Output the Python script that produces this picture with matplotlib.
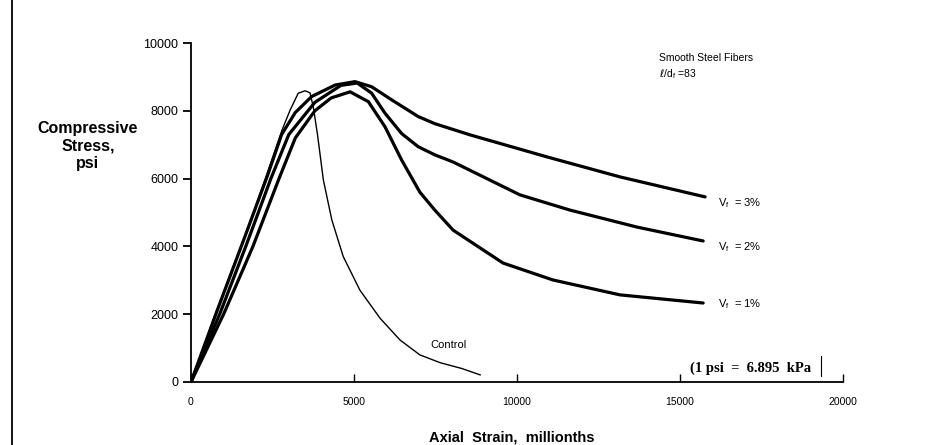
import matplotlib.pyplot as plt
from matplotlib.lines import Line2D

# strain in millionths, stress in psi
vf3_strain = [0, 800, 1600, 2350, 2780, 3200, 3700, 4420, 5030, 5540, 6160, 6970, 7480,
              8560, 10920, 13160, 15770]
vf3_stress = [0, 2100, 4150, 6100, 7300, 7950, 8420, 8760, 8860, 8710, 8320, 7830, 7620,
              7290, 6640, 6050, 5460]

vf2_strain = [0, 900, 1700, 2450, 3000, 3800, 4600, 5100, 5540, 5950, 6460, 6970, 7480,
              8040, 10090, 11630, 13680, 15710]
vf2_stress = [0, 2050, 4050, 6000, 7300, 8250, 8750, 8820, 8520, 7930, 7330, 6940, 6700,
              6490, 5520, 5070, 4570, 4160]

vf1_strain = [0, 1000, 1900, 2700, 3200, 3800, 4300, 4880, 5440, 5950, 6460, 7020, 7480,
              8040, 9570, 11100, 13160, 15710]
vf1_stress = [0, 2000, 4000, 6000, 7200, 8000, 8380, 8560, 8270, 7530, 6550, 5600, 5070,
              4480, 3510, 3010, 2570, 2330]

ctrl_strain = [0, 800, 1600, 2300, 2800, 3040, 3290, 3500, 3650, 3750, 3880, 4060, 4320,
               4670, 5180, 5800, 6410, 7020, 7640, 8300, 8870]
ctrl_stress = [0, 2150, 4150, 6050, 7450, 8020, 8520, 8590, 8530, 8120, 7300, 5960, 4780,
               3700, 2710, 1880, 1240, 800, 570, 400, 210]

x_ticks = [0, 5000, 10000, 15000, 20000]
y_ticks = [0, 2000, 4000, 6000, 8000, 10000]

W, H = 928, 445
fig = plt.figure(figsize=(W / 100, H / 100), dpi=100)
ax = fig.add_axes([191 / W, 63 / H, 652 / W, 339 / H])

ax.plot(vf3_strain, vf3_stress, color="black", lw=2.3, solid_capstyle="round")
ax.plot(vf2_strain, vf2_stress, color="black", lw=2.3, solid_capstyle="round")
ax.plot(vf1_strain, vf1_stress, color="black", lw=2.3, solid_capstyle="round")
ax.plot(ctrl_strain, ctrl_stress, color="black", lw=1.0)

ax.set_xlim(0, 20000)
ax.set_ylim(0, 10000)
ax.spines["top"].set_visible(False)
ax.spines["right"].set_visible(False)
ax.spines["left"].set_linewidth(1.3)
ax.spines["bottom"].set_linewidth(1.3)

ax.set_xticks(x_ticks)
ax.set_xticklabels([str(v) for v in x_ticks], fontsize=7.5, family="Liberation Sans")
ax.tick_params(axis="x", direction="in", length=6, pad=11, width=1)
ax.set_yticks(y_ticks)
ax.set_yticklabels([str(v) for v in y_ticks], fontsize=9, family="Liberation Sans")
ax.tick_params(axis="y", direction="out", length=6, pad=3, width=1.3)

# labels and annotations
fig.text(88 / W, 1 - 146 / H, "Compressive\nStress,\npsi", ha="center", va="center",
         fontsize=11.5, fontweight="bold", family="Liberation Sans", linespacing=1.2)
fig.text(512 / W, 1 - 437 / H, "Axial  Strain,  millionths", ha="center", va="center",
         fontsize=10.5, fontweight="bold", family="Liberation Sans")

fig.text(659 / W, 1 - 58 / H, "Smooth Steel Fibers", ha="left", va="center",
         fontsize=7.5, family="Liberation Sans")
fig.text(659 / W, 1 - 74 / H, r"$\ell$/d$_\mathregular{f}$ =83", ha="left", va="center",
         fontsize=7.5, family="Liberation Sans")

for y, txt in [(203, "3%"), (247, "2%"), (304, "1%")]:
    fig.text(718 / W, 1 - y / H, r"V$_\mathregular{f}$  = " + txt, ha="left", va="center",
             fontsize=8, family="Liberation Sans")

fig.text(430 / W, 1 - 345 / H, "Control", ha="left", va="center",
         fontsize=8, family="Liberation Sans")
fig.text(690 / W, 1 - 368 / H, "(1 psi  =  6.895  kPa", ha="left", va="center",
         fontsize=10.5, fontweight="bold", family="Liberation Serif")
fig.add_artist(Line2D([821 / W, 821 / W], [1 - 356 / H, 1 - 376 / H], color="black", lw=0.8))

# page border line on the left of the scan
fig.add_artist(Line2D([12 / W, 12 / W], [0, 1], color="black", lw=1.3))

fig.savefig("out.png", dpi=100, facecolor="white")
